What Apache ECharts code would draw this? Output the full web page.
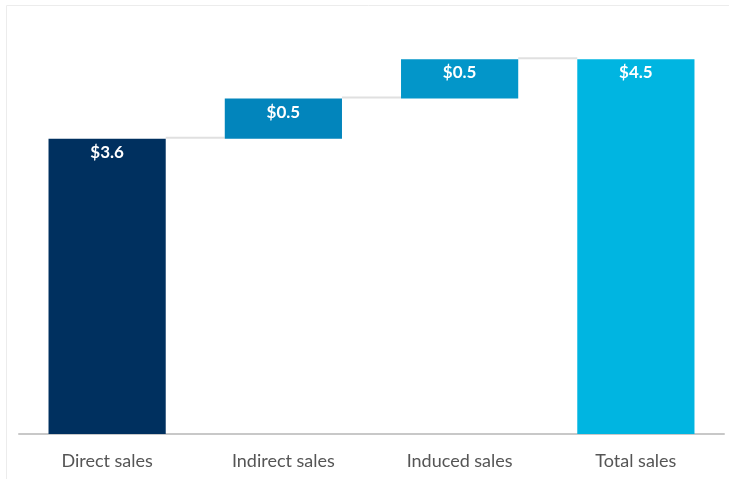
<!DOCTYPE html>
<html><head><meta charset="utf-8">
<script src="https://cdn.jsdelivr.net/npm/echarts@6/dist/echarts.min.js"></script>
<style>html,body{margin:0;padding:0;background:#fff;}#c{width:729px;height:479px;}</style>
</head><body><div id="c"></div>
<script>
const categories = ["Direct sales", "Indirect sales", "Induced sales", "Total sales"];
const values = [3.6, 0.49, 0.48, 4.57];
const valueLabels = ["$3.6", "$0.5", "$0.5", "$4.5"];
const barColors = ["#00305f", "#0285bc", "#0396c9", "#00b5e1"];
const isTotal = [false, false, false, true];

// waterfall bases computed from values
const bases = [];
let run = 0;
values.forEach((v, i) => {
  if (isTotal[i]) { bases.push(0); }
  else { bases.push(run); run += v; }
});
const tops = values.map((v, i) => bases[i] + v);

const chart = echarts.init(document.getElementById('c'));
const barFrac = 0.665;
chart.setOption({
  animation: false,
  graphic: [{type:'rect', shape:{x:6.5, y:5.5, width:800, height:600}, style:{fill:'none', stroke:'#ececec', lineWidth:1}, z:-10}],
  grid: {left: 19, right: 5, top: 24, bottom: 45},
  xAxis: {
    type: 'category', data: categories,
    axisLine: {lineStyle: {color: '#c8c8c8', width: 2}},
    axisTick: {show: false},
    axisLabel: {color: '#555', fontSize: 18, fontFamily: 'Lato', margin: 18}
  },
  yAxis: {type: 'value', min: 0, max: 5, show: false, splitLine: {show: false}},
  series: [
    {type: 'bar', stack: 'w', data: bases, itemStyle: {color: 'transparent'}, barWidth: (barFrac*100)+'%', silent: true},
    {type: 'bar', stack: 'w', barWidth: (barFrac*100)+'%',
     data: values.map((v, i) => ({value: v, itemStyle: {color: barColors[i]}})),
     label: {show: true, position: 'insideTop', distance: 5, color: '#fff', fontSize: 17, fontWeight: 'bold', fontFamily: 'Lato',
       formatter: p => valueLabels[p.dataIndex]}},
    {type: 'custom', z: 1,
     data: tops.slice(0, 3).map((t, i) => [i, t]),
     renderItem: function (params, api) {
       const i = api.value(0), t = api.value(1);
       const p1 = api.coord([i, t]);
       const p2 = api.coord([i + 1, t]);
       const bw = api.size([1, 0])[0] * barFrac / 2;
       return {type: 'line', shape: {x1: p1[0] + bw, y1: p1[1] - 1, x2: p2[0] - bw, y2: p2[1] - 1},
               style: {stroke: '#e0e0e0', lineWidth: 2}};
     }}
  ]
});
</script></body></html>
